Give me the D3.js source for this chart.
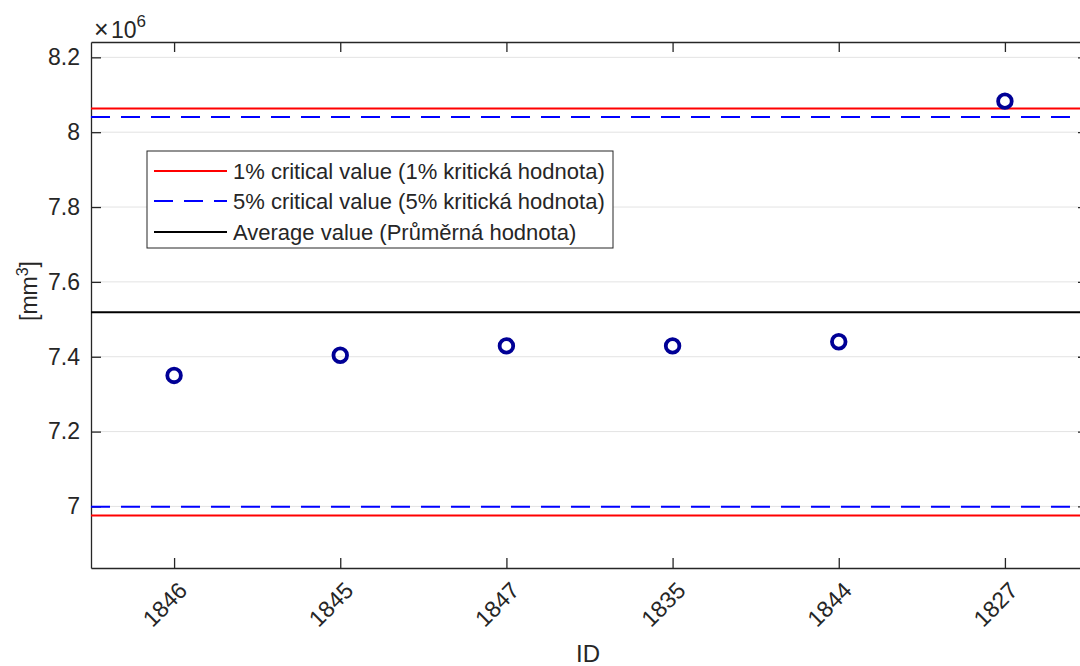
<!DOCTYPE html>
<html><head><meta charset="utf-8">
<script src="https://d3js.org/d3.v7.min.js"></script>
<style>body{margin:0;background:#fff}svg{display:block}text{font-family:"Liberation Sans",Arial,Helvetica,sans-serif;fill:#262626}</style>
</head><body><svg id="c" width="1080" height="666"></svg>
<script>
const categories = ["1846","1845","1847","1835","1844","1827"];
const values = [7.350, 7.404, 7.429, 7.429, 7.440, 8.083]; // ×10^6 mm^3
const yTicks = [7, 7.2, 7.4, 7.6, 7.8, 8, 8.2];
const yTickLabels = ["7","7.2","7.4","7.6","7.8","8","8.2"];
const crit1 = [6.976, 8.0636];
const crit5 = [6.999, 8.0403];
const average = [7.519];
const legendLabels = ["1% critical value (1% kritická hodnota)","5% critical value (5% kritická hodnota)","Average value (Průměrná hodnota)"];

const svg = d3.select("#c");
const L=91, T=42, B=568, R=1088;
const x = d3.scaleLinear().domain([0.5, 6.5]).range([L, R]);
const y = d3.scaleLinear().domain([6.8355, 8.241]).range([B, T]);
const axisCol="#262626";

const g = svg.append("g");
g.selectAll(".grid").data(yTicks).join("line")
 .attr("x1",L).attr("x2",R).attr("y1",d=>y(d)).attr("y2",d=>y(d))
 .attr("stroke","#e3e3e3").attr("stroke-width",1);

const yAx = d3.axisLeft(y).tickValues(yTicks).tickFormat((d,i)=>yTickLabels[i]).tickSizeInner(-10).tickSizeOuter(0).tickPadding(11);
const ya = g.append("g").attr("transform",`translate(${L},0)`).call(yAx);
ya.selectAll("text").style("font-size","23px").attr("fill",axisCol);
const yr = g.append("g").attr("transform",`translate(${R},0)`).call(d3.axisRight(y).tickValues(yTicks).tickSizeInner(-10).tickSizeOuter(0).tickFormat(""));
const xAx = d3.axisBottom(x).tickValues(d3.range(1,7)).tickFormat((d,i)=>categories[i]).tickSizeInner(-10).tickSizeOuter(0).tickPadding(0);
const xa = g.append("g").attr("transform",`translate(0,${B})`).call(xAx);
xa.selectAll("text").style("font-size","23px").attr("fill",axisCol)
 .attr("text-anchor","end").attr("dy","0").attr("y",0)
 .attr("transform","translate(14,24) rotate(-45)");
const xt = g.append("g").attr("transform",`translate(0,${T})`).call(d3.axisTop(x).tickValues(d3.range(1,7)).tickSizeInner(-10).tickSizeOuter(0).tickFormat(""));
[ya,yr,xa,xt].forEach(a=>{a.selectAll("path").attr("stroke",axisCol).attr("stroke-width",1.3);a.selectAll("line").attr("stroke",axisCol).attr("stroke-width",1.3);});

function hline(v,col,dash){g.append("line").attr("x1",L).attr("x2",R).attr("y1",y(v)).attr("y2",y(v)).attr("stroke",col).attr("stroke-width",2).attr("stroke-dasharray",dash||null);}
crit1.forEach(v=>hline(v,"#ff0000"));
crit5.forEach(v=>hline(v,"#0000ff","19,11"));
average.forEach(v=>hline(v,"#000000"));

g.selectAll(".pt").data(values).join("circle")
 .attr("cx",(d,i)=>x(i+1)).attr("cy",d=>y(d)).attr("r",6.8)
 .attr("fill","none").attr("stroke","#000096").attr("stroke-width",3.8);

const lg = svg.append("g");
lg.append("rect").attr("x",147).attr("y",151).attr("width",466).attr("height",97).attr("fill","#fff").attr("stroke","#262626").attr("stroke-width",1);
const lcols=["#ff0000","#0000ff","#000000"], ldash=[null,"19,11",null], ly=[171,201,232];
legendLabels.forEach((t,i)=>{
  lg.append("line").attr("x1",154).attr("x2",227).attr("y1",ly[i]).attr("y2",ly[i]).attr("stroke",lcols[i]).attr("stroke-width",2).attr("stroke-dasharray",ldash[i]);
  lg.append("text").attr("x",233).attr("y",ly[i]).attr("dy","0.35em").style("font-size","22px").attr("fill","#000").text(t);
});

svg.append("text").attr("transform","translate(37,291) rotate(-90)").attr("text-anchor","middle").style("font-size","23px")
 .html('[mm<tspan dy="-9" font-size="16">3</tspan><tspan dy="9">]</tspan>');
svg.append("text").attr("x",588).attr("y",662).attr("text-anchor","middle").style("font-size","24px").text("ID");
svg.append("text").attr("x",94).attr("y",38).style("font-size","23px")
 .html('<tspan font-size="25">×</tspan><tspan x="111">10</tspan><tspan dy="-11" font-size="17">6</tspan>');
</script></body></html>
